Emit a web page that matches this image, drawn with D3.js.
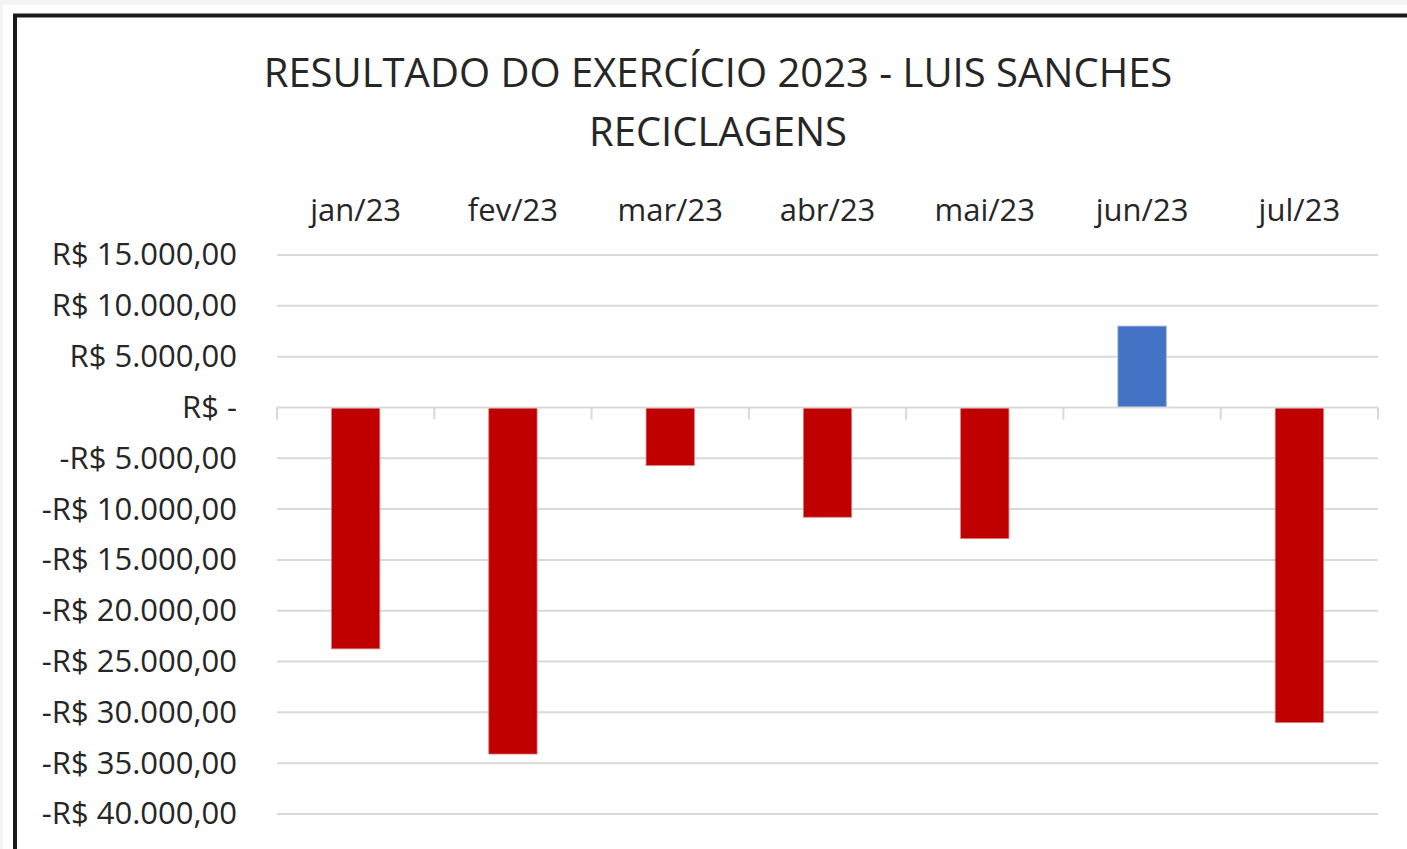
<!DOCTYPE html>
<meta charset="utf-8">
<style>
  body { margin: 0; background: #f4f4f4; }
  text { font-family: "Open Sans", sans-serif; fill: #262626; }
</style>
<body>
<script src="https://d3js.org/d3.v7.min.js"></script>
<script>

  let months = ["jan/23", "fev/23", "mar/23", "abr/23", "mai/23", "jun/23", "jul/23"];
  let results = [-23750, -34100, -5700, -10800, -12900, 8000, -31000];
  let tickValues = [15000, 10000, 5000, 0, -5000, -10000, -15000, -20000, -25000, -30000, -35000, -40000];
  let titleLines = ["RESULTADO DO EXERCÍCIO 2023 - LUIS SANCHES", "RECICLAGENS"];

  let width = 1407,
    height = 849;

  let svg = d3.select("body").append("svg")
    .attr("width", width)
    .attr("height", height)
    .style("display", "block");

  // page + chart area
  svg.append("rect").attr("width", width).attr("height", height).attr("fill", "#f4f4f4");
  svg.append("rect").attr("x", 3).attr("y", 5).attr("width", width).attr("height", height).attr("fill", "#fff");
  svg.append("path")
    .attr("d", "M15," + height + "V15.5H" + width)
    .attr("fill", "none")
    .attr("stroke", "#1a1a1a")
    .attr("stroke-width", 4);

  let x = d3.scaleBand()
    .domain(months)
    .range([277, 1378])
    .paddingInner(0)
    .paddingOuter(0);

  let y = d3.scaleLinear()
    .domain([-40000, 15000])
    .range([814, 255]);

  let fmt = function(v) {
    if (v === 0) return "R$ -";
    let s = d3.format(",.2f")(Math.abs(v)).replace(/,/g, "#").replace(".", ",").replace(/#/g, ".");
    return (v < 0 ? "-" : "") + "R$ " + s;
  };

  // gridlines
  svg.append("g")
    .selectAll("line")
    .data(tickValues.filter(d => d !== 0))
    .enter().append("line")
    .attr("x1", 277).attr("x2", 1378)
    .attr("y1", d => y(d)).attr("y2", d => y(d))
    .attr("stroke", "#d9d9d9")
    .attr("stroke-width", 2);

  // y labels
  let yAxis = svg.append("g")
    .attr("transform", "translate(237,0)")
    .call(d3.axisLeft(y).tickValues(tickValues).tickFormat(fmt).tickSize(0).tickPadding(0));
  yAxis.select(".domain").remove();
  yAxis.selectAll("text")
    .style("font-size", "31px")
    .style("font-family", "'Open Sans', sans-serif")
    .attr("fill", "#262626");

  // bars
  svg.append("g")
    .selectAll("rect")
    .data(results)
    .enter().append("rect")
    .attr("x", (d, i) => x(months[i]) + x.bandwidth() * 0.3465)
    .attr("width", x.bandwidth() * 0.307)
    .attr("y", d => y(Math.max(0, d)))
    .attr("height", d => Math.abs(y(d) - y(0)))
    .attr("fill", d => d < 0 ? "#c00000" : "#4472c4")
    .attr("stroke", d => d < 0 ? "#e07a7a" : "#8faadc")
    .attr("stroke-width", 0.8);

  // zero axis with category ticks
  let xAxis = svg.append("g")
    .attr("transform", "translate(0," + y(0) + ")");
  xAxis.append("line")
    .attr("x1", 277).attr("x2", 1378)
    .attr("stroke", "#d9d9d9").attr("stroke-width", 2);
  xAxis.selectAll(".tk")
    .data(months.concat([null]))
    .enter().append("line")
    .attr("class", "tk")
    .attr("x1", (d, i) => d ? x(d) : x.range()[1])
    .attr("x2", (d, i) => d ? x(d) : x.range()[1])
    .attr("y1", 0).attr("y2", 12)
    .attr("stroke", "#d9d9d9").attr("stroke-width", 2);

  // category labels on top
  let topAxis = svg.append("g")
    .attr("transform", "translate(0,221)")
    .call(d3.axisTop(x).tickSize(0).tickPadding(0));
  topAxis.select(".domain").remove();
  topAxis.selectAll("text")
    .style("font-size", "31px")
    .style("font-family", "'Open Sans', sans-serif")
    .attr("fill", "#262626");

  // title
  svg.append("g")
    .selectAll("text")
    .data(titleLines)
    .enter().append("text")
    .attr("x", 718)
    .attr("y", (d, i) => 87 + i * 59)
    .attr("text-anchor", "middle")
    .style("font-size", "40px")
    .text(d => d);

</script>
